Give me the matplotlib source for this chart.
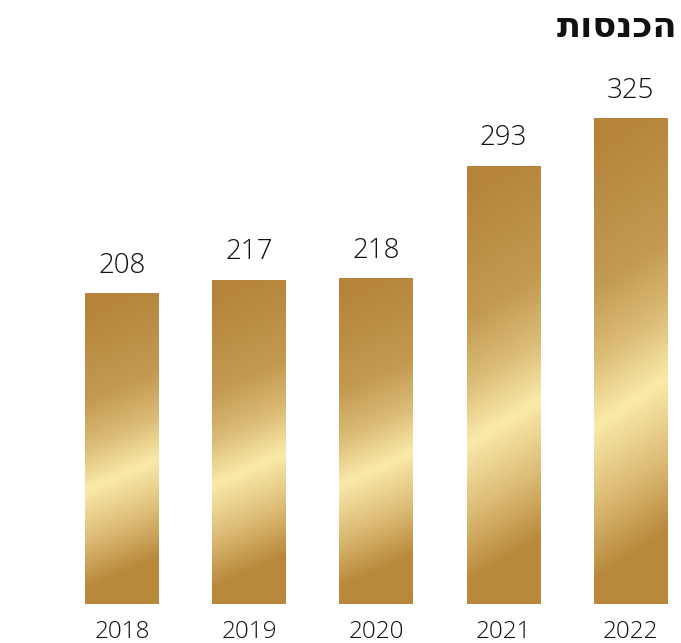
import numpy as np
import matplotlib.pyplot as plt
from matplotlib.colors import LinearSegmentedColormap
from matplotlib.patches import Rectangle

years = ["2018", "2019", "2020", "2021", "2022"]
revenue = [208, 217, 218, 293, 325]
title = "הכנסות"

plt.rcParams['font.family'] = ['Open Sans', 'DejaVu Sans']

gold = LinearSegmentedColormap.from_list("gold", [
    (0.0, "#b5843a"),
    (0.30, "#c39a52"),
    (0.45, "#dcbd77"),
    (0.585, "#faeaa9"),
    (0.75, "#dcbb75"),
    (0.90, "#b98a3c"),
    (1.0, "#b8893b"),
])

fig = plt.figure(figsize=(6.81, 6.43), dpi=100)
ax = fig.add_axes([0, 1 - 604 / 643, 1, 604 / 643])
ax.axis("off")

# diagonal gradient, in bar-relative coordinates
gx, gy = np.meshgrid(np.linspace(0, 1, 60), np.linspace(0, 1, 300))
grad = gy + 0.1 * (gx - 0.5)  # gy: 0 = top, 1 = bottom

width = 0.58
for i, v in enumerate(revenue):
    x0 = i - width / 2
    rect = Rectangle((x0, 0), width, v, facecolor="none", edgecolor="none")
    ax.add_patch(rect)
    im = ax.imshow(grad, cmap=gold, vmin=0, vmax=1, aspect="auto",
                   extent=(x0, x0 + width, 0, v), interpolation="bilinear")
    im.set_clip_path(rect)
    ax.text(i, v + 9, str(v), ha="center", va="bottom", fontsize=20,
            fontweight="light", color="#111111")
    fig.text((i * 127.1 + 122) / 681, 1 - 632 / 643, years[i], ha="center",
             va="center", fontsize=17.5, fontweight="light", color="#111111")

ax.set_ylim(0, 404)
ax.set_xlim(-0.96, 4.397)

# hebrew: matplotlib has no bidi, so feed the letters in visual order
fig.text(677 / 681, 1 - 28 / 643, title[::-1], ha="right", va="center",
         fontsize=25.5, fontweight="bold", color="#111111")

fig.savefig("out.png", dpi=100)
